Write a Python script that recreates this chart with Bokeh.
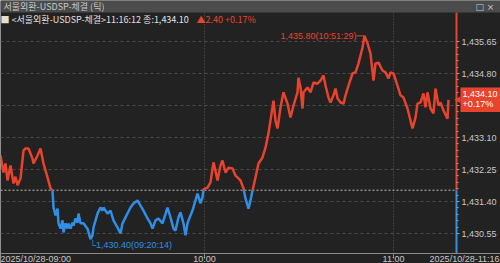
from math import pi
from bokeh.plotting import figure
from bokeh.models import (Range1d, FixedTicker, Label, BoxAnnotation, NumeralTickFormatter)
from bokeh.core.properties import value
from bokeh.embed import file_html
from bokeh.resources import INLINE

# ---------------- data ----------------
title_text = "서울외환-USDSP-체결 (틱)"
legend_text = "■ <서울외환-USDSP-체결>11:16:12 종:1,434.10"
change_text = "▲2.40 +0.17%"
prev_close = 1431.70
last_price = 1434.10
last_label = "1,434.10\n+0.17%"
high_label = "1,435.80(10:51:29)"
low_label = "└1,430.40(09:20:14)"
start_label = "2025/10/28-09:00"
end_label = "2025/10/28-11:16"
hour_ticks = [204, 393]
hour_labels = ["10:00", "11:00"]
y_ticks = [1430.55, 1431.40, 1432.25, 1433.10, 1433.95, 1434.80, 1435.65]

tick_pos = [0, 3, 5, 7, 10, 13, 15, 17, 20, 23, 25, 28, 32, 33, 37, 40, 43, 47, 50, 52,
            53, 55, 57, 58, 60, 62, 63, 65, 67, 68, 70, 72, 73, 75, 77, 78, 80, 83, 87, 90,
            92, 93, 97, 100, 102, 103, 107, 110, 113, 117, 120, 122, 125, 130, 133, 137, 140, 143, 147, 150,
            152, 155, 158, 162, 167, 170, 173, 175, 178, 180, 183, 185, 187, 188, 192, 195, 197, 200, 202, 203,
            207, 210, 213, 215, 217, 220, 222, 225, 228, 232, 235, 237, 240, 243, 245, 248, 250, 252, 255, 258,
            262, 265, 268, 272, 273, 275, 277, 280, 283, 287, 290, 293, 297, 298, 300, 302, 303, 307, 310, 313,
            317, 320, 323, 325, 328, 330, 333, 335, 337, 340, 343, 345, 348, 352, 355, 358, 362, 364, 367, 370,
            373, 375, 378, 382, 385, 388, 390, 393, 397, 400, 403, 407, 410, 412, 415, 417, 420, 423, 425, 427,
            430, 433, 435, 438, 440, 443, 447, 448]
prices = [1432.62, 1432.17, 1432.41, 1431.96, 1432.36, 1431.88, 1432.06, 1431.83, 1432.01, 1432.75,
          1432.81, 1432.81, 1432.54, 1432.41, 1432.62, 1432.81, 1432.41, 1432.04, 1431.75, 1431.69,
          1431.24, 1431.03, 1431.21, 1430.82, 1430.68, 1430.90, 1430.58, 1430.82, 1430.68, 1430.82,
          1430.68, 1430.84, 1430.76, 1430.95, 1430.84, 1431.08, 1430.82, 1430.82, 1430.68, 1430.40,
          1430.50, 1430.71, 1431.08, 1431.24, 1431.16, 1431.24, 1431.08, 1431.16, 1430.90, 1430.71,
          1430.55, 1430.82, 1430.98, 1431.24, 1431.35, 1431.43, 1431.29, 1431.16, 1430.95, 1430.82,
          1430.68, 1430.90, 1430.95, 1430.82, 1431.24, 1430.98, 1430.68, 1430.63, 1430.98, 1431.11,
          1430.82, 1430.50, 1430.82, 1430.90, 1431.16, 1431.43, 1431.61, 1431.35, 1431.51, 1431.72,
          1431.77, 1431.91, 1432.44, 1432.22, 1431.96, 1432.36, 1432.49, 1432.17, 1432.30, 1432.28,
          1432.09, 1432.04, 1431.96, 1431.75, 1431.48, 1431.21, 1431.43, 1431.69, 1432.04, 1432.41,
          1432.57, 1432.83, 1433.21, 1433.90, 1434.08, 1433.55, 1433.34, 1433.90, 1434.30, 1434.00,
          1433.63, 1433.95, 1434.30, 1434.69, 1434.43, 1433.87, 1434.30, 1434.43, 1434.30, 1434.56,
          1434.53, 1434.61, 1434.75, 1434.48, 1434.16, 1434.03, 1434.22, 1434.40, 1434.14, 1434.03,
          1434.00, 1434.22, 1434.48, 1434.80, 1434.83, 1435.07, 1435.49, 1435.80, 1435.60, 1435.33,
          1434.61, 1435.07, 1435.09, 1434.88, 1434.83, 1434.67, 1434.83, 1434.80, 1434.48, 1434.22,
          1434.16, 1433.87, 1433.55, 1433.34, 1433.63, 1434.00, 1434.03, 1434.27, 1433.90, 1434.30,
          1433.87, 1433.74, 1434.40, 1433.95, 1434.03, 1433.82, 1433.60, 1434.10]

# ---------------- layout / styles ----------------
BG = "#222222"
RED = "#e8432d"
BLUE = "#2f8fe6"
TXT = "#c8c8c8"
FONT = "Noto Sans CJK KR"
NUMFONT = "Liberation Sans"
AXIS_X = 456          # position of the price axis along the tick axis
Y_TOP, Y_BOTTOM = 1436.739, 1429.754   # whole canvas height in price units
CHART_TOP, CHART_BOTTOM = 1436.42, 1430.02   # top of chart area / time axis level
PX = 1 / 37.65        # one pixel in price units

p = figure(width=500, height=263, output_backend="svg", toolbar_location=None,
           x_range=Range1d(0, 500), y_range=Range1d(Y_BOTTOM, Y_TOP),
           min_border=0, min_border_left=0, min_border_right=0, min_border_top=0,
           min_border_bottom=0, background_fill_color=BG, border_fill_color=BG,
           outline_line_color=None, y_axis_location="right")

# time axis
xa = p.xaxis[0]
xa.fixed_location = CHART_BOTTOM
xa.ticker = FixedTicker(ticks=hour_ticks)
xa.major_label_overrides = {t: l for t, l in zip(hour_ticks, hour_labels)}
xa.major_label_text_align = "left"
xa.major_label_text_color = TXT
xa.major_label_text_font = NUMFONT
xa.major_label_text_font_size = "9px"
xa.major_label_standoff = 1
xa.major_tick_out = 0
xa.major_tick_in = 0
xa.minor_tick_line_color = None
xa.axis_line_color = "#8a8a8a"

# price axis
ya = p.yaxis[0]
ya.fixed_location = AXIS_X
minor = []
for i in range(len(y_ticks) - 1):
    step = (y_ticks[i + 1] - y_ticks[i]) / 5
    minor += [y_ticks[i] + step * k for k in range(1, 5)]
ya.ticker = FixedTicker(ticks=y_ticks, minor_ticks=minor)
ya.formatter = NumeralTickFormatter(format="0,0.00")
ya.major_label_text_color = TXT
ya.major_label_text_font = NUMFONT
ya.major_label_text_font_size = "9px"
ya.major_label_standoff = 2
ya.major_tick_out = 3
ya.major_tick_in = 0
ya.minor_tick_out = 2
ya.minor_tick_in = 0
ya.major_tick_line_color = "#9a9a9a"
ya.minor_tick_line_color = "#9a9a9a"
ya.axis_line_color = None

# grid
p.xgrid.ticker = FixedTicker(ticks=hour_ticks)
p.xgrid.grid_line_color = "#5a5a5a"
p.xgrid.grid_line_dash = "1 2"
p.xgrid.cross_bounds = (CHART_BOTTOM, CHART_TOP)
p.ygrid.grid_line_color = "#4a4a4a"
p.ygrid.grid_line_dash = "3 3"
p.ygrid.cross_bounds = (0, AXIS_X)

# tick marks of the time axis (pointing down from the axis line)
p.segment(x0=hour_ticks, x1=hour_ticks, y0=[CHART_BOTTOM] * len(hour_ticks),
          y1=[CHART_BOTTOM - 5 * PX] * len(hour_ticks), line_color="#8a8a8a", line_width=1)

# previous close reference line
p.segment(x0=[0], x1=[AXIS_X], y0=[prev_close], y1=[prev_close], line_color="#bdbdbd",
          line_dash="2 2", line_width=1)

# split price line by side of previous close
runs_x, runs_y, runs_c = [], [], []
cx, cy = [tick_pos[0]], [prices[0]]
side = prices[0] >= prev_close
for i in range(1, len(prices)):
    x0, v0, x1, v1 = tick_pos[i - 1], prices[i - 1], tick_pos[i], prices[i]
    s1 = v1 >= prev_close
    if s1 != side:
        xc = x0 + (prev_close - v0) * (x1 - x0) / (v1 - v0)
        cx.append(xc); cy.append(prev_close)
        runs_x.append(cx); runs_y.append(cy); runs_c.append(RED if side else BLUE)
        cx, cy = [xc], [prev_close]
        side = s1
    cx.append(x1); cy.append(v1)
runs_x.append(cx); runs_y.append(cy); runs_c.append(RED if side else BLUE)
p.multi_line(xs=runs_x, ys=runs_y, line_color=runs_c, line_width=2.5)

# coloured price-axis line
p.segment(x0=[AXIS_X, AXIS_X], x1=[AXIS_X, AXIS_X], y0=[prev_close, CHART_BOTTOM],
          y1=[CHART_TOP, prev_close], line_color=[RED, BLUE], line_width=2)

# high / low annotations
hi_i = prices.index(max(prices))
lo_i = prices.index(min(prices))
p.segment(x0=[tick_pos[hi_i] - 8], x1=[tick_pos[hi_i]], y0=[prices[hi_i]], y1=[prices[hi_i]],
          line_color=RED, line_width=1)
p.text(x=[tick_pos[hi_i] - 8], y=[prices[hi_i]], text=[high_label], text_align="right",
       text_baseline="middle", text_color=RED, text_font=value(NUMFONT), text_font_size="9px")
p.text(x=[tick_pos[lo_i] - 1], y=[prices[lo_i]], text=[low_label], text_align="left",
       text_baseline="middle", y_offset=6, text_color=BLUE, text_font=value(NUMFONT),
       text_font_size="9px")

# last price box
p.scatter(x=[AXIS_X + 2], y=[last_price], marker="triangle", angle=pi / 2, size=7,
          fill_color=RED, line_color=None, level="overlay")
p.add_layout(Label(x=AXIS_X, y=last_price, text=last_label, x_offset=4, text_align="left",
                   text_baseline="middle", text_color="white", text_font=NUMFONT,
                   text_font_size="9px", background_fill_color=RED, text_line_height=1.05,
                   padding=(2, 4, 1, 3), level="overlay"))

# title band and texts
p.add_layout(BoxAnnotation(left=0, right=500, top=0, bottom=12, left_units="canvas",
                           right_units="canvas", top_units="canvas", bottom_units="canvas",
                           fill_color="#4b4b4b", fill_alpha=1, line_color=None, level="overlay"))
p.add_layout(Label(x=3, y=6, x_units="canvas", y_units="canvas", text=title_text,
                   text_baseline="middle", text_color=TXT, text_font=FONT, text_font_size="9px",
                   level="overlay"))
p.add_layout(Label(x=475, y=6, x_units="canvas", y_units="canvas", text="□  ×",
                   text_baseline="middle", text_color=TXT, text_font="DejaVu Sans",
                   text_font_size="9px", level="overlay"))
p.add_layout(Label(x=0, y=19, x_units="canvas", y_units="canvas", text=legend_text,
                   text_baseline="middle", text_color="#e0e0e0", text_font=FONT, text_font_size="9px",
                   level="overlay"))
p.add_layout(Label(x=196, y=19, x_units="canvas", y_units="canvas", text=change_text,
                   text_baseline="middle", text_color=RED, text_font=FONT, text_font_size="9px",
                   level="overlay"))
p.add_layout(Label(x=0, y=258, x_units="canvas", y_units="canvas", text=start_label,
                   text_baseline="middle", text_color=TXT, text_font=NUMFONT, text_font_size="9px",
                   level="overlay"))
p.add_layout(Label(x=499, y=258, x_units="canvas", y_units="canvas", text=end_label,
                   text_align="right", text_baseline="middle", text_color=TXT, text_font=NUMFONT,
                   text_font_size="9px", level="overlay"))

open("out.html", "w").write(file_html(p, INLINE))
